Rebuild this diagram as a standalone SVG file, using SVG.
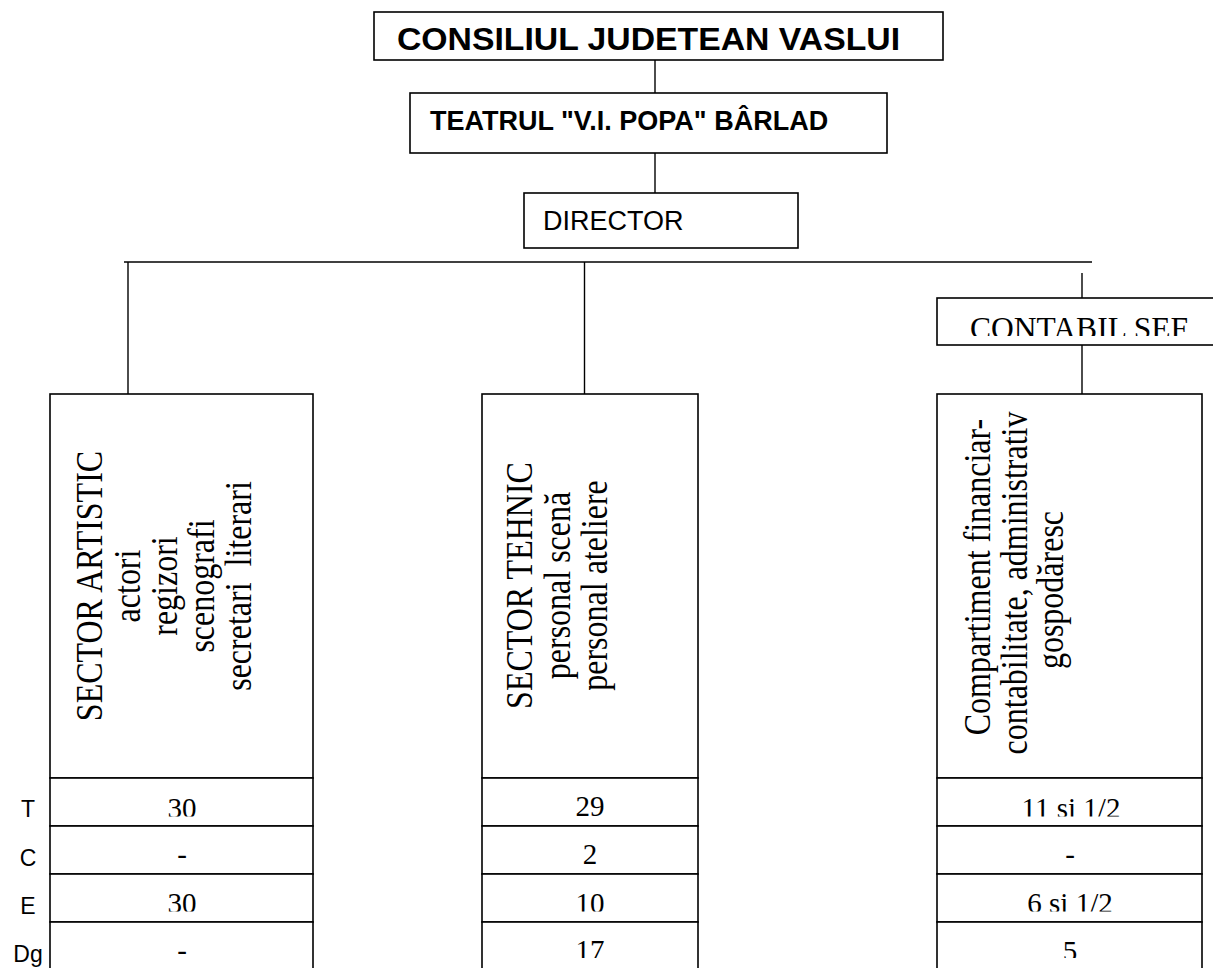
<svg xmlns="http://www.w3.org/2000/svg" width="1213" height="968" viewBox="0 0 1213 968">
<style>
.box{fill:#fff;stroke:#000;stroke-width:1.6}
.ln{stroke:#000;stroke-width:1.4;fill:none}
.hb{font-family:"Liberation Sans",Arial,sans-serif;font-weight:bold;fill:#000}
.sn{font-family:"Liberation Sans",Arial,sans-serif;fill:#000}
.sf{font-family:"Liberation Serif","Times New Roman",serif;fill:#000}
.num{font-family:"Liberation Serif","Times New Roman",serif;font-size:29px;text-anchor:middle;fill:#000}
.lbl{font-family:"Liberation Sans",Arial,sans-serif;font-size:23px;text-anchor:middle;fill:#000}
.vt{font-family:"Liberation Serif","Times New Roman",serif;font-size:32px;text-anchor:middle;fill:#000}
</style>
<defs>
<clipPath id="cT"><rect x="0" y="778" width="1213" height="38.5"/></clipPath>
<clipPath id="cE"><rect x="0" y="875" width="1213" height="36.5"/></clipPath>
<clipPath id="cD"><rect x="0" y="923" width="1213" height="35"/></clipPath>
<clipPath id="cS"><rect x="938" y="299" width="275" height="37"/></clipPath>
</defs>
<g id="connectors">
<line class="ln" x1="655" y1="60" x2="655" y2="93"/>
<line class="ln" x1="655" y1="153" x2="655" y2="193"/>
<line class="ln" x1="124" y1="262" x2="1092" y2="262"/>
<line class="ln" x1="128" y1="262" x2="128" y2="394"/>
<line class="ln" x1="584.5" y1="262" x2="584.5" y2="394"/>
<line class="ln" x1="1082" y1="273" x2="1082" y2="298"/>
<line class="ln" x1="1082" y1="345" x2="1082" y2="394"/>
</g>
<g id="consiliul">
<rect class="box" x="374" y="12" width="569" height="48"/>
<text class="hb" x="397" y="50" font-size="32" textLength="503" lengthAdjust="spacingAndGlyphs">CONSILIUL JUDETEAN VASLUI</text>
</g>
<g id="teatrul">
<rect class="box" x="410" y="93" width="477" height="60"/>
<text class="hb" x="430" y="130" font-size="27">TEATRUL "V.I. POPA" BÂRLAD</text>
</g>
<g id="director">
<rect class="box" x="524" y="193" width="274" height="55"/>
<text class="sn" x="543" y="230" font-size="27">DIRECTOR</text>
</g>
<g id="contabil">
<rect class="box" x="937" y="298" width="290" height="47"/>
<text class="sf" x="970" y="339" font-size="31" textLength="218" lengthAdjust="spacingAndGlyphs" clip-path="url(#cS)">CONTABIL SEF</text>
</g>
<g id="labels">
<text class="lbl" x="28" y="817">T</text>
<text class="lbl" x="28" y="866">C</text>
<text class="lbl" x="28" y="914">E</text>
<text class="lbl" x="28" y="962">Dg</text>
</g>
<g id="artistic">
<rect class="box" x="50" y="394" width="263" height="384"/>
<rect class="box" x="50" y="778" width="263" height="48"/>
<rect class="box" x="50" y="826" width="263" height="48"/>
<rect class="box" x="50" y="874" width="263" height="48"/>
<rect class="box" x="50" y="922" width="263" height="60"/>
<text class="vt" transform="translate(102,586) rotate(-90) scale(1,1.18)">SECTOR ARTISTIC</text>
<text class="vt" transform="translate(140,586) rotate(-90) scale(1,1.18)">actori</text>
<text class="vt" transform="translate(177,586) rotate(-90) scale(1,1.18)">regizori</text>
<text class="vt" transform="translate(214,586) rotate(-90) scale(1,1.18)">scenografi</text>
<text class="vt" transform="translate(251,586) rotate(-90) scale(1,1.18)">secretari&#160; literari</text>
<text class="num" x="182" y="818" clip-path="url(#cT)">30</text>
<text class="num" x="182" y="864">-</text>
<text class="num" x="182" y="913" clip-path="url(#cE)">30</text>
<text class="num" x="182" y="960" clip-path="url(#cD)">-</text>
</g>
<g id="tehnic">
<rect class="box" x="482" y="394" width="216" height="384"/>
<rect class="box" x="482" y="778" width="216" height="48"/>
<rect class="box" x="482" y="826" width="216" height="48"/>
<rect class="box" x="482" y="874" width="216" height="48"/>
<rect class="box" x="482" y="922" width="216" height="60"/>
<text class="vt" transform="translate(532,585.5) rotate(-90) scale(1,1.18)">SECTOR TEHNIC</text>
<text class="vt" transform="translate(570,585.5) rotate(-90) scale(1,1.18)">personal scenă</text>
<text class="vt" transform="translate(607,585.5) rotate(-90) scale(1,1.18)">personal ateliere</text>
<text class="num" x="590" y="816" clip-path="url(#cT)">29</text>
<text class="num" x="590" y="864">2</text>
<text class="num" x="590" y="913" clip-path="url(#cE)">10</text>
<text class="num" x="590" y="960" clip-path="url(#cD)">17</text>
</g>
<g id="financiar">
<rect class="box" x="937" y="394" width="265" height="384"/>
<rect class="box" x="937" y="778" width="265" height="48"/>
<rect class="box" x="937" y="826" width="265" height="48"/>
<rect class="box" x="937" y="874" width="265" height="48"/>
<rect class="box" x="937" y="922" width="265" height="60"/>
<text class="vt" transform="translate(990,577) rotate(-90) scale(1,1.18)">Compartiment financiar-</text>
<text class="vt" transform="translate(1027,583) rotate(-90) scale(1,1.18)">contabilitate, administrativ</text>
<text class="vt" transform="translate(1063,590) rotate(-90) scale(1,1.18)">gospodăresc</text>
<text class="num" x="1071" y="818" clip-path="url(#cT)">11 si 1/2</text>
<text class="num" x="1070" y="864">-</text>
<text class="num" x="1070" y="913" clip-path="url(#cE)">6 si 1/2</text>
<text class="num" x="1070" y="961" clip-path="url(#cD)">5</text>
</g>
</svg>
